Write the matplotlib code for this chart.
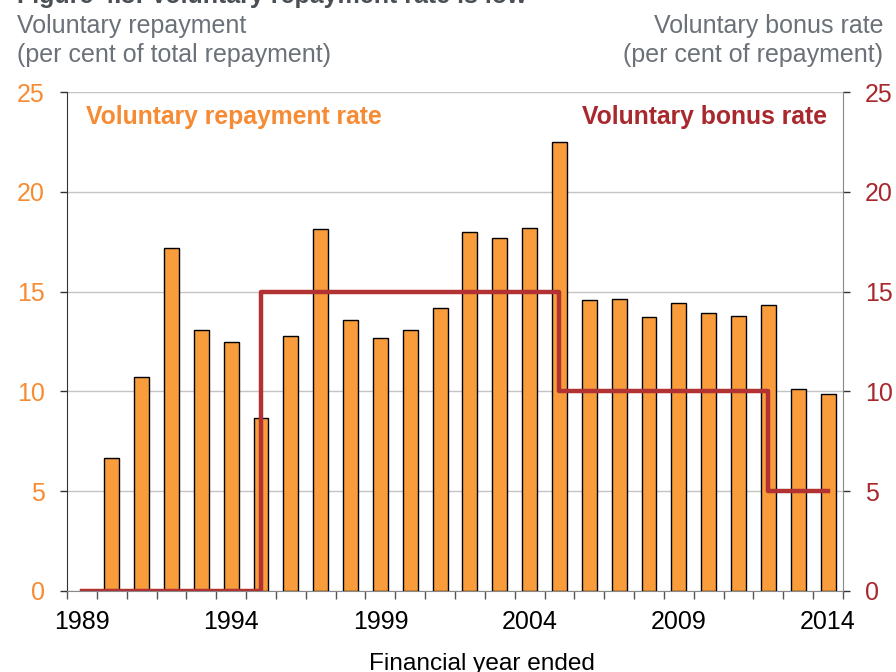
import numpy as np
import matplotlib
matplotlib.use("Agg")
import matplotlib.pyplot as plt

plt.rcParams["font.family"] = ["Liberation Sans", "DejaVu Sans"]

ORANGE = "#F89C3C"
ORANGE_TXT = "#F68B33"
DARK_RED = "#A8282D"
LINE_RED = "#B23234"
GREY_TXT = "#6B7178"

years = list(range(1989, 2015))
repayment_rate = [np.nan, 6.65, 10.7, 17.2, 13.1, 12.5, 8.65, 12.8, 18.15, 13.6,
                  12.7, 13.1, 14.2, 18.0, 17.7, 18.2, 22.5, 14.6, 14.65, 13.75,
                  14.45, 13.95, 13.8, 14.35, 10.1, 9.85]
bonus_rate = [0, 0, 0, 0, 0, 0, 15, 15, 15, 15,
              15, 15, 15, 15, 15, 15, 10, 10, 10, 10,
              10, 10, 10, 5, 5, 5]
label_years = [1989, 1994, 1999, 2004, 2009, 2014]

x = np.arange(len(years))


def px(xp, yp):
    # pixel position (from top-left) -> figure fraction
    return xp / 896, 1 - yp / 672


fig = plt.figure(figsize=(8.96, 6.72), dpi=100)
ax = fig.add_axes([67 / 896, 1 - 591 / 672, (843 - 67) / 896, (591 - 92) / 672])

ax.bar(x, repayment_rate, width=0.5, color=ORANGE, edgecolor="black",
       linewidth=1.0, zorder=3)

ax.set_xlim(-0.5, len(years) - 0.5)
ax.set_ylim(0, 25)
ax.set_yticks(range(0, 26, 5))
ax.grid(True, axis="y", color="#C4C4C4", linewidth=1.0, zorder=0)
ax.set_axisbelow(True)

# year labels at centres, tick marks at category boundaries
ax.set_xticks([years.index(y) for y in label_years])
ax.set_xticklabels([str(y) for y in label_years], fontsize=18)
ax.tick_params(axis="x", which="major", length=0, pad=14)
ax.set_xticks(np.arange(-0.5, len(years), 1.0), minor=True)
ax.tick_params(axis="x", which="minor", length=6, width=1, color="#555555",
               direction="out")

ax.tick_params(axis="y", length=5, width=1, color="#333333", labelsize=18,
               labelcolor=ORANGE_TXT, pad=11)
for s in ["top", "right"]:
    ax.spines[s].set_visible(False)
ax.spines["left"].set_color("#333333")
ax.spines["bottom"].set_color("#888888")

ax2 = ax.twinx()
ax2.plot(x, bonus_rate, drawstyle="steps-post", color=LINE_RED, linewidth=3.2,
         zorder=4)
ax2.set_ylim(0, 25)
ax2.set_yticks(range(0, 26, 5))
ax2.tick_params(axis="y", length=5, width=1, color="#333333", labelsize=18,
                labelcolor=DARK_RED, pad=11)
for s in ["top", "left", "bottom"]:
    ax2.spines[s].set_visible(False)
ax2.spines["right"].set_color("#888888")

# in-plot series labels
fig.text(*px(86, 117), "Voluntary repayment rate", color=ORANGE_TXT,
         fontsize=17.8, fontweight="bold", ha="left", va="center")
fig.text(*px(827, 117), "Voluntary bonus rate", color=DARK_RED,
         fontsize=17.8, fontweight="bold", ha="right", va="center")

# axis titles above the plot
fig.text(*px(17, 33), "Voluntary repayment", color=GREY_TXT, fontsize=18,
         ha="left", va="baseline")
fig.text(*px(17, 62), "(per cent of total repayment)", color=GREY_TXT,
         fontsize=18, ha="left", va="baseline")
fig.text(*px(883, 33), "Voluntary bonus rate", color=GREY_TXT, fontsize=18,
         ha="right", va="baseline")
fig.text(*px(883, 62), "(per cent of repayment)", color=GREY_TXT,
         fontsize=18, ha="right", va="baseline")

# title, mostly cut off at the top edge
fig.text(*px(17, 3), "Figure 4.3: Voluntary repayment rate is low",
         color="#4A4F55", fontsize=18, fontweight="bold", ha="left",
         va="baseline")

fig.text(*px(482, 664), "Financial year ended", color="black",
         fontsize=17.6, ha="center", va="center")

fig.savefig("out.png", dpi=100)
